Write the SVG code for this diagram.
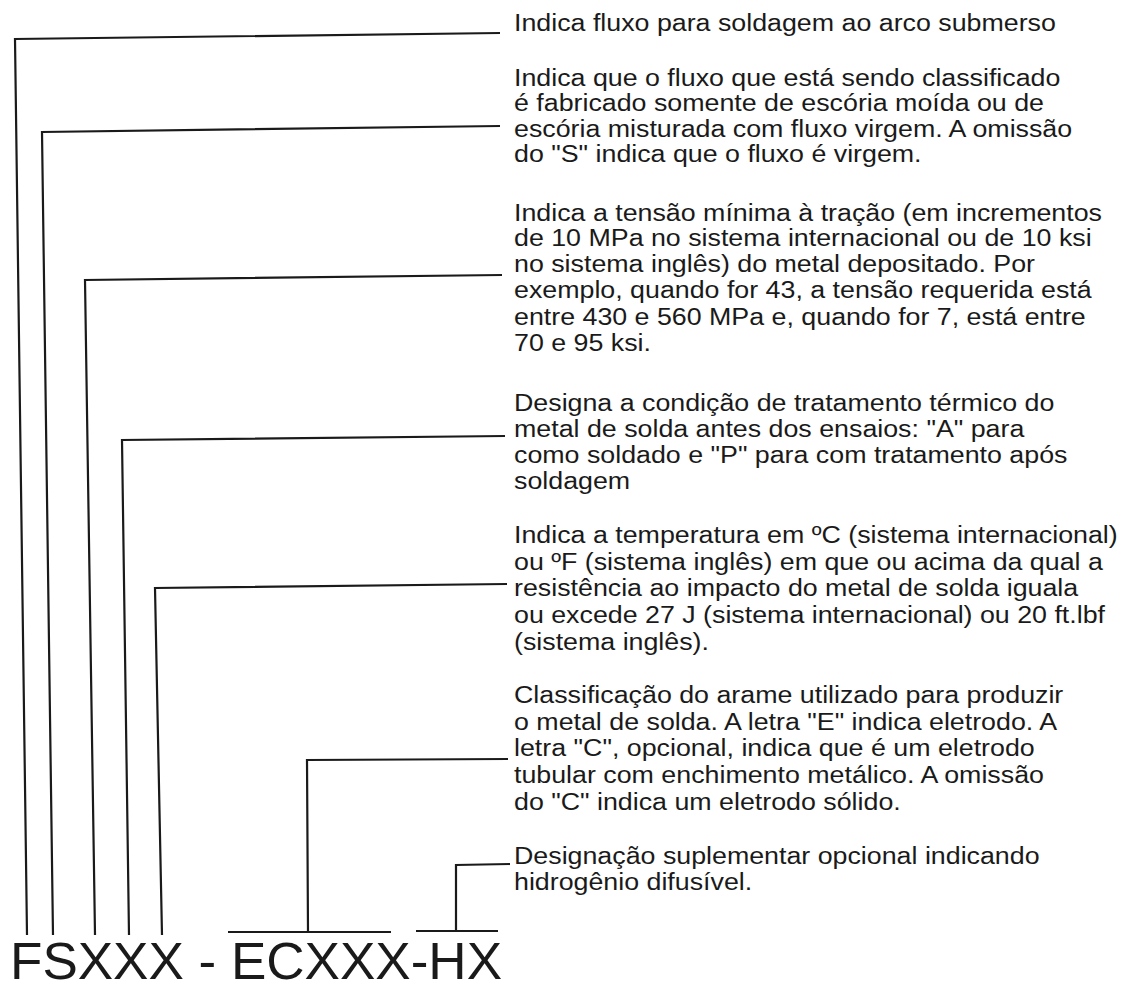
<svg xmlns="http://www.w3.org/2000/svg" width="1129" height="990" viewBox="0 0 1129 990">
  <style>
    .lbl { font-family: "Liberation Sans", Arial, sans-serif; font-size: 24.5px; fill: #1a1a1a; }
    .code { font-family: "Liberation Sans", Arial, sans-serif; font-size: 51px; fill: #1a1a1a; }
    .ln { fill: none; stroke: #1a1a1a; stroke-width: 2.2; stroke-linejoin: miter; stroke-linecap: butt; }
  </style>
  <rect x="0" y="0" width="1129" height="990" fill="#ffffff"/>

  <g id="connectors">
    <polyline class="ln" points="27,935 15,39 500,33"/>
    <polyline class="ln" points="53,935 42,132 500,126"/>
    <polyline class="ln" points="95,935 85,280 502,275"/>
    <polyline class="ln" points="129,935 122,440 505,436"/>
    <polyline class="ln" points="162,935 155,588 507,584"/>
    <line class="ln" x1="228" y1="932" x2="391" y2="932"/>
    <polyline class="ln" points="308,932 307,760 508,759"/>
    <line class="ln" x1="416" y1="931" x2="498" y2="931"/>
    <polyline class="ln" points="456,931 456,865 510,864"/>
  </g>

  <g id="code">
    <text class="code" x="10" y="979" textLength="492" lengthAdjust="spacingAndGlyphs">FSXXX - ECXXX-HX</text>
  </g>

  <g id="label-1" transform="matrix(1.094 0 0 1 514 0)">
    <text class="lbl" x="0" y="31">Indica fluxo para soldagem ao arco submerso</text>
  </g>

  <g id="label-2" transform="matrix(1.094 0 0 1 514 0)">
    <text class="lbl" x="0" y="86">Indica que o fluxo que está sendo classificado</text>
    <text class="lbl" x="0" y="111.5">é fabricado somente de escória moída ou de</text>
    <text class="lbl" x="0" y="137">escória misturada com fluxo virgem. A omissão</text>
    <text class="lbl" x="0" y="162.5">do "S" indica que o fluxo é virgem.</text>
  </g>

  <g id="label-3" transform="matrix(1.094 0 0 1 514 0)">
    <text class="lbl" x="0" y="221">Indica a tensão mínima à tração (em incrementos</text>
    <text class="lbl" x="0" y="246.5">de 10 MPa no sistema internacional ou de 10 ksi</text>
    <text class="lbl" x="0" y="272">no sistema inglês) do metal depositado. Por</text>
    <text class="lbl" x="0" y="298">exemplo, quando for 43, a tensão requerida está</text>
    <text class="lbl" x="0" y="325">entre 430 e 560 MPa e, quando for 7, está entre</text>
    <text class="lbl" x="0" y="351">70 e 95 ksi.</text>
  </g>

  <g id="label-4" transform="matrix(1.094 0 0 1 514 0)">
    <text class="lbl" x="0" y="411">Designa a condição de tratamento térmico do</text>
    <text class="lbl" x="0" y="437">metal de solda antes dos ensaios: "A" para</text>
    <text class="lbl" x="0" y="463">como soldado e "P" para com tratamento após</text>
    <text class="lbl" x="0" y="489">soldagem</text>
  </g>

  <g id="label-5" transform="matrix(1.094 0 0 1 514 0)">
    <text class="lbl" x="0" y="543">Indica a temperatura em ºC (sistema internacional)</text>
    <text class="lbl" x="0" y="570">ou ºF (sistema inglês) em que ou acima da qual a</text>
    <text class="lbl" x="0" y="596">resistência ao impacto do metal de solda iguala</text>
    <text class="lbl" x="0" y="623">ou excede 27 J (sistema internacional) ou 20 ft.lbf</text>
    <text class="lbl" x="0" y="650">(sistema inglês).</text>
  </g>

  <g id="label-6" transform="matrix(1.094 0 0 1 514 0)">
    <text class="lbl" x="0" y="703">Classificação do arame utilizado para produzir</text>
    <text class="lbl" x="0" y="730">o metal de solda. A letra "E" indica eletrodo. A</text>
    <text class="lbl" x="0" y="756">letra "C", opcional, indica que é um eletrodo</text>
    <text class="lbl" x="0" y="783">tubular com enchimento metálico. A omissão</text>
    <text class="lbl" x="0" y="810">do "C" indica um eletrodo sólido.</text>
  </g>

  <g id="label-7" transform="matrix(1.094 0 0 1 514 0)">
    <text class="lbl" x="0" y="864">Designação suplementar opcional indicando</text>
    <text class="lbl" x="0" y="890">hidrogênio difusível.</text>
  </g>
</svg>
